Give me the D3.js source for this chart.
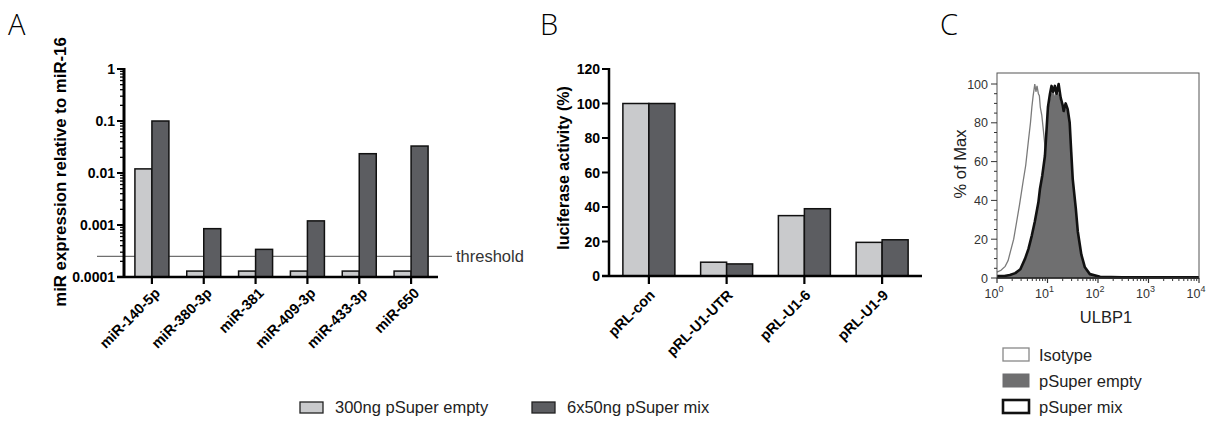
<!DOCTYPE html>
<html>
<head>
<meta charset="utf-8">
<script src="https://cdn.jsdelivr.net/npm/d3@7"></script>
<style>
  html, body { margin: 0; padding: 0; background: #fff; }
  svg { display: block; font-family: "Liberation Sans", Arial, sans-serif; }
</style>
</head>
<body>
<svg id="fig" width="1218" height="423"></svg>
<script>
// ---------- Panel A: miR expression (log scale) ----------
const mirNames = ["miR-140-5p", "miR-380-3p", "miR-381", "miR-409-3p", "miR-433-3p", "miR-650"];
const mirEmpty = [0.012, 0.00013, 0.00013, 0.00013, 0.00013, 0.00013];
const mirMix   = [0.1, 0.00085, 0.00034, 0.0012, 0.0235, 0.033];
const mirThreshold = 0.00025;
const mirTicks = [0.0001, 0.001, 0.01, 0.1, 1];

// ---------- Panel B: luciferase activity ----------
const lucNames = ["pRL-con", "pRL-U1-UTR", "pRL-U1-6", "pRL-U1-9"];
const lucEmpty = [100, 8, 35, 19.5];
const lucMix   = [100, 7, 39, 21];
const lucTicks = [0, 20, 40, 60, 80, 100, 120];

// ---------- Panel C: ULBP1 flow histograms [fluorescence, % of max] ----------
const isotypeHist = [
  [1.0, 3], [1.2, 4], [1.45, 6], [1.66, 9], [1.86, 14], [2.14, 20], [2.45, 29],
  [2.8, 38], [3.3, 50], [3.7, 58], [4.2, 71], [4.6, 80], [4.9, 88], [5.2, 94],
  [5.4, 97], [5.6, 100], [5.9, 96], [6.2, 99], [6.6, 95], [6.9, 94], [7.2, 88],
  [7.7, 84], [8.3, 76], [8.9, 68], [10, 55], [12.6, 35], [15.8, 18], [20, 8],
  [28, 3], [40, 1], [63, 0], [10000, 0]
];
const emptyHist = [
  [1.0, 1], [1.4, 1], [1.8, 1.5], [2.3, 2.5], [2.9, 4], [3.6, 9], [4.2, 14],
  [4.9, 21], [5.6, 28], [6.6, 38], [7.1, 45], [7.9, 52], [8.9, 62], [9.5, 73],
  [10.2, 85], [11.2, 92], [12, 96], [12.9, 97], [14, 94], [15.1, 97], [16.6, 95],
  [18.2, 91], [20, 88], [20.9, 85], [22.9, 88], [25.1, 86], [27.5, 79], [29.5, 64],
  [31.6, 50], [36.3, 35], [39.8, 23], [46.8, 11], [55, 5], [69, 1.5], [110, 0.5],
  [300, 0.3], [10000, 0.3]
];
const mixHist = [
  [1.0, 1], [1.4, 1], [1.8, 1.5], [2.3, 2.5], [2.9, 4.5], [3.6, 10], [4.2, 15],
  [4.9, 22], [5.6, 29], [6.6, 39], [7.1, 46], [7.9, 53], [8.9, 63], [9.5, 75],
  [10.2, 88], [11.2, 95], [12, 99], [12.9, 96], [14, 99], [15.1, 95], [16.6, 100],
  [18.2, 93], [20, 89], [20.9, 86], [22.9, 90], [25.1, 87], [27.5, 80], [29.5, 65],
  [31.6, 51], [36.3, 36], [39.8, 24], [46.8, 12], [55, 5.5], [69, 2], [110, 0.6],
  [300, 0.4], [10000, 0.4]
];
const flowYTicks = [0, 20, 40, 60, 80, 100];
const flowXTicks = [1, 10, 100, 1000, 10000];

const legendLabels = ["300ng pSuper empty", "6x50ng pSuper mix"];
const flowLegend = ["Isotype", "pSuper empty", "pSuper mix"];

const cLight = "#c9cacc", cDark = "#5c5d61";
const svg = d3.select("#fig");

// ===== Panel A =====
{
  const g = svg.append("g");
  const y = d3.scaleLog().domain([0.0001, 1]).range([277, 69]);
  const x = d3.scalePoint().domain(mirNames).range([126, 437]).padding(0.5);
  const bw = 17;

  // threshold line
  g.append("line").attr("x1", 97).attr("x2", 452)
    .attr("y1", y(mirThreshold)).attr("y2", y(mirThreshold))
    .attr("stroke", "#6f6f6f").attr("stroke-width", 1.2);
  g.append("text").attr("x", 456).attr("y", y(mirThreshold) + 6)
    .attr("font-size", 16.5).attr("fill", "#333").text("threshold");

  const groups = mirNames.map((n, i) => ({ n, e: mirEmpty[i], m: mirMix[i] }));
  g.selectAll("rect.e").data(groups).join("rect")
    .attr("x", d => x(d.n) - bw).attr("width", bw)
    .attr("y", d => y(d.e)).attr("height", d => y(0.0001) - y(d.e))
    .attr("fill", cLight).attr("stroke", "#111").attr("stroke-width", 1.5);
  g.selectAll("rect.m").data(groups).join("rect")
    .attr("x", d => x(d.n)).attr("width", bw)
    .attr("y", d => y(d.m)).attr("height", d => y(0.0001) - y(d.m))
    .attr("fill", cDark).attr("stroke", "#111").attr("stroke-width", 1.5);

  // y axis with minor ticks
  const minor = [];
  for (let e = -4; e < 0; e++) for (let k = 2; k <= 9; k++) minor.push(k * Math.pow(10, e));
  g.selectAll("line.mn").data(minor).join("line")
    .attr("x1", 120).attr("x2", 125).attr("y1", d => y(d)).attr("y2", d => y(d))
    .attr("stroke", "#000").attr("stroke-width", 1.3);
  g.selectAll("line.mj").data(mirTicks).join("line")
    .attr("x1", 117).attr("x2", 125).attr("y1", d => y(d)).attr("y2", d => y(d))
    .attr("stroke", "#000").attr("stroke-width", 2);
  g.selectAll("text.yl").data(mirTicks).join("text")
    .attr("x", 115).attr("y", d => y(d) + 5).attr("text-anchor", "end")
    .attr("font-size", 14).attr("font-weight", "bold").text(d => String(d));
  g.append("line").attr("x1", 124).attr("x2", 124).attr("y1", 68).attr("y2", 278)
    .attr("stroke", "#000").attr("stroke-width", 3);
  g.append("line").attr("x1", 117).attr("x2", 438).attr("y1", 277).attr("y2", 277)
    .attr("stroke", "#000").attr("stroke-width", 2.5);
  g.selectAll("line.xt").data(mirNames).join("line")
    .attr("x1", d => x(d)).attr("x2", d => x(d)).attr("y1", 277).attr("y2", 284)
    .attr("stroke", "#000").attr("stroke-width", 2.2);
  g.selectAll("text.xl").data(mirNames).join("text")
    .attr("transform", d => `translate(${x(d) + 9},${294}) rotate(-45)`)
    .attr("text-anchor", "end").attr("font-size", 14.5).attr("font-weight", "bold")
    .text(d => d);

  g.append("text").attr("transform", "translate(66,172) rotate(-90)")
    .attr("text-anchor", "middle").attr("font-size", 16.8).attr("font-weight", "bold")
    .text("miR expression relative to miR-16");
  svg.append("text").attr("x", 8).attr("y", 35).attr("font-size", 29)
    .attr("font-family", "'Open Sans', sans-serif").attr("font-weight", 300).text("A");
}

// ===== Panel B =====
{
  const g = svg.append("g");
  const y = d3.scaleLinear().domain([0, 120]).range([276, 69]);
  const x = d3.scalePoint().domain(lucNames).range([610, 921]).padding(0.5);
  const bw = 26;
  const groups = lucNames.map((n, i) => ({ n, e: lucEmpty[i], m: lucMix[i] }));
  g.selectAll("rect.e").data(groups).join("rect")
    .attr("x", d => x(d.n) - bw).attr("width", bw)
    .attr("y", d => y(d.e)).attr("height", d => y(0) - y(d.e))
    .attr("fill", cLight).attr("stroke", "#111").attr("stroke-width", 1.5);
  g.selectAll("rect.m").data(groups).join("rect")
    .attr("x", d => x(d.n)).attr("width", bw)
    .attr("y", d => y(d.m)).attr("height", d => y(0) - y(d.m))
    .attr("fill", cDark).attr("stroke", "#111").attr("stroke-width", 1.5);

  g.selectAll("line.yt").data(lucTicks).join("line")
    .attr("x1", 602).attr("x2", 610).attr("y1", d => y(d)).attr("y2", d => y(d))
    .attr("stroke", "#000").attr("stroke-width", 2);
  g.selectAll("text.yl").data(lucTicks).join("text")
    .attr("x", 600).attr("y", d => y(d) + 5).attr("text-anchor", "end")
    .attr("font-size", 14).attr("font-weight", "bold").text(d => d);
  g.append("line").attr("x1", 609).attr("x2", 609).attr("y1", 68).attr("y2", 277)
    .attr("stroke", "#000").attr("stroke-width", 2.5);
  g.append("line").attr("x1", 602).attr("x2", 922).attr("y1", 276).attr("y2", 276)
    .attr("stroke", "#000").attr("stroke-width", 2.5);
  g.selectAll("line.xt").data(lucNames).join("line")
    .attr("x1", d => x(d)).attr("x2", d => x(d)).attr("y1", 276).attr("y2", 284)
    .attr("stroke", "#000").attr("stroke-width", 2.2);
  g.selectAll("text.xl").data(lucNames).join("text")
    .attr("transform", d => `translate(${x(d) + 7},${296}) rotate(-45)`)
    .attr("text-anchor", "end").attr("font-size", 14.5).attr("font-weight", "bold")
    .text(d => d);
  g.append("text").attr("transform", "translate(569,168) rotate(-90)")
    .attr("text-anchor", "middle").attr("font-size", 16).attr("font-weight", "bold")
    .text("luciferase activity (%)");
  svg.append("text").attr("x", 540).attr("y", 35).attr("font-size", 29)
    .attr("font-family", "'Open Sans', sans-serif").attr("font-weight", 300).text("B");
}

// ===== Panel C =====
{
  const g = svg.append("g");
  const x = d3.scaleLog().domain([1, 10000]).range([997, 1199]);
  const y = d3.scaleLinear().domain([0, 100]).range([278, 84]);

  const area = d3.area().x(d => x(d[0])).y0(y(0)).y1(d => y(d[1])).curve(d3.curveLinear);
  const line = d3.line().x(d => x(d[0])).y(d => y(d[1])).curve(d3.curveLinear);

  g.append("path").datum(isotypeHist).attr("d", line)
    .attr("fill", "none").attr("stroke", "#7a7a7a").attr("stroke-width", 1.3);
  g.append("path").datum(emptyHist).attr("d", area).attr("fill", "#6f6f70");
  g.append("path").datum(mixHist).attr("d", line)
    .attr("fill", "none").attr("stroke", "#111").attr("stroke-width", 2.6)
    .attr("stroke-linejoin", "round");

  // frame
  g.append("rect").attr("x", 997).attr("y", 73).attr("width", 202).attr("height", 205)
    .attr("fill", "none").attr("stroke", "#555").attr("stroke-width", 1);
  g.append("line").attr("x1", 997).attr("x2", 1199).attr("y1", 278).attr("y2", 278)
    .attr("stroke", "#222").attr("stroke-width", 1.5);

  // y ticks
  const yMinor = d3.range(0, 101, 5);
  g.selectAll("line.ym").data(yMinor).join("line")
    .attr("x1", d => d % 20 === 0 ? 991 : 994).attr("x2", 997)
    .attr("y1", d => y(d)).attr("y2", d => y(d))
    .attr("stroke", "#333").attr("stroke-width", 1);
  g.selectAll("text.yl").data(flowYTicks).join("text")
    .attr("x", 988).attr("y", d => y(d) + 4.5).attr("text-anchor", "end")
    .attr("font-size", 12.5).attr("fill", "#333").text(d => d);

  // x ticks
  const xMinor = [];
  for (let e = 0; e < 4; e++) for (let k = 2; k <= 9; k++) xMinor.push(k * Math.pow(10, e));
  g.selectAll("line.xm").data(xMinor).join("line")
    .attr("x1", d => x(d)).attr("x2", d => x(d)).attr("y1", 278).attr("y2", 281)
    .attr("stroke", "#333").attr("stroke-width", 1);
  g.selectAll("line.xj").data(flowXTicks).join("line")
    .attr("x1", d => x(d)).attr("x2", d => x(d)).attr("y1", 278).attr("y2", 283)
    .attr("stroke", "#333").attr("stroke-width", 1.2);
  const xl = g.selectAll("text.xl").data(flowXTicks).join("text")
    .attr("x", d => x(d) - 3).attr("y", 298).attr("text-anchor", "middle")
    .attr("font-size", 12.5).attr("fill", "#333");
  xl.append("tspan").text("10");
  xl.append("tspan").attr("dy", -6).attr("font-size", 9).text(d => Math.round(Math.log10(d)));

  g.append("text").attr("x", 1106).attr("y", 323).attr("text-anchor", "middle")
    .attr("font-size", 16.5).attr("fill", "#222").text("ULBP1");
  g.append("text").attr("transform", "translate(966,164) rotate(-90)")
    .attr("text-anchor", "middle").attr("font-size", 16.5).attr("fill", "#222").text("% of Max");

  // legend
  const lg = [
    { t: flowLegend[0], fill: "#fff", stroke: "#888", sw: 1.3, y: 348 },
    { t: flowLegend[1], fill: "#6f6f70", stroke: "#6f6f70", sw: 1, y: 374 },
    { t: flowLegend[2], fill: "#fff", stroke: "#111", sw: 2.6, y: 400 }
  ];
  g.selectAll("rect.lg").data(lg).join("rect")
    .attr("x", 1003).attr("y", d => d.y).attr("width", 26).attr("height", 13)
    .attr("fill", d => d.fill).attr("stroke", d => d.stroke).attr("stroke-width", d => d.sw);
  g.selectAll("text.lg").data(lg).join("text")
    .attr("x", 1039).attr("y", d => d.y + 13).attr("font-size", 16.5).attr("fill", "#222")
    .text(d => d.t);

  svg.append("text").attr("x", 940).attr("y", 35).attr("font-size", 29)
    .attr("font-family", "'Open Sans', sans-serif").attr("font-weight", 300).text("C");
}

// ===== Shared legend for A and B =====
{
  const items = [
    { t: legendLabels[0], fill: cLight, x: 300, tx: 335 },
    { t: legendLabels[1], fill: cDark, x: 532, tx: 567 }
  ];
  svg.selectAll("rect.bl").data(items).join("rect")
    .attr("x", d => d.x).attr("y", 402).attr("width", 23).attr("height", 11)
    .attr("fill", d => d.fill).attr("stroke", "#222").attr("stroke-width", 1.3);
  svg.selectAll("text.bl").data(items).join("text")
    .attr("x", d => d.tx).attr("y", 413).attr("font-size", 16.5).attr("fill", "#222")
    .text(d => d.t);
}
</script>
</body>
</html>
